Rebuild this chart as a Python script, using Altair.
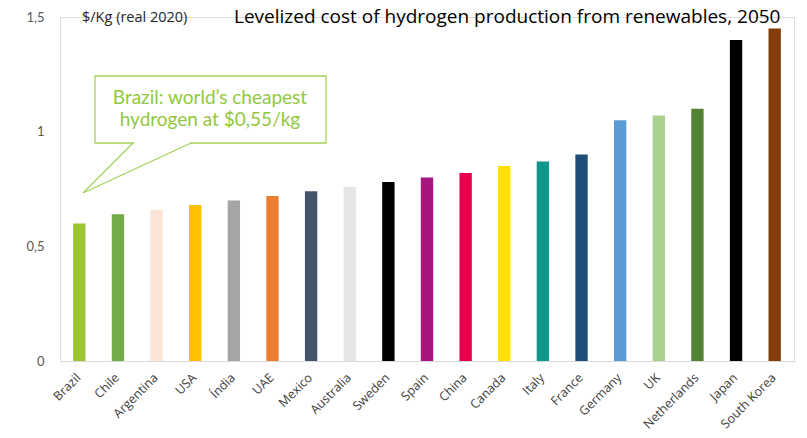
import altair as alt
import pandas as pd

countries = ["Brazil", "Chile", "Argentina", "USA", "Índia", "UAE", "Mexico", "Australia",
             "Sweden", "Spain", "China", "Canada", "Italy", "France", "Germany", "UK",
             "Netherlands", "Japan", "South Korea"]
costs = [0.60, 0.64, 0.66, 0.68, 0.70, 0.72, 0.74, 0.76, 0.78, 0.80, 0.82, 0.85,
         0.87, 0.90, 1.05, 1.07, 1.10, 1.40, 1.45]
colors = ["#9BC532", "#70AD47", "#FBE5D6", "#FFC000", "#A5A5A5", "#ED7D31", "#44546A",
          "#E7E6E6", "#000000", "#A5177F", "#E8004F", "#FFE000", "#10968A", "#1F4E79",
          "#5B9BD5", "#A9D18E", "#548235", "#000000", "#843C0C"]
y_ticks = [0, 0.5, 1, 1.5]

unit_label = "$/Kg (real 2020)"
title_text = "Levelized cost of hydrogen production from renewables, 2050"
callout_lines = ["Brazil: world\u2019s cheapest", "hydrogen at $0,55/kg"]

FONT = "Lato"
FONT2 = "Open Sans"
GREEN = "#A6D15A"
TEXT_GREEN = "#92C83E"

df = pd.DataFrame({"country": countries, "cost": costs})
one = pd.DataFrame({"a": [0]})

bars = alt.Chart(df).mark_bar().encode(
    x=alt.X("country:N", sort=countries, title=None,
            scale=alt.Scale(paddingInner=0.68, paddingOuter=0.34),
            axis=alt.Axis(labelAngle=-45, labelFontSize=12.5, labelColor="#404040",
                          labelFont=FONT2, ticks=False, domainColor="#D9D9D9",
                          labelPadding=10, labelOffset=-5)),
    y=alt.Y("cost:Q", title=None,
            scale=alt.Scale(domain=[0, 1.5], nice=False),
            axis=alt.Axis(values=y_ticks, grid=False, domain=False, ticks=False,
                          labelExpr="replace(toString(datum.value), '.', ',')",
                          labelFontSize=13, labelColor="#595959", labelFont=FONT,
                          labelPadding=16)),
    color=alt.Color("country:N", scale=alt.Scale(domain=countries, range=colors),
                    legend=None),
)

box = alt.Chart(one).mark_rect(fill="white", stroke=GREEN, strokeWidth=1.3).encode(
    x=alt.value(35), x2=alt.value(266), y=alt.value(59), y2=alt.value(126))
gap = alt.Chart(one).mark_rule(color="white", strokeWidth=2.5).encode(
    x=alt.value(74), x2=alt.value(130), y=alt.value(126), y2=alt.value(126))
tail1 = alt.Chart(one).mark_rule(color=GREEN, strokeWidth=1.3).encode(
    x=alt.value(73), x2=alt.value(23), y=alt.value(126), y2=alt.value(176))
tail2 = alt.Chart(one).mark_rule(color=GREEN, strokeWidth=1.3).encode(
    x=alt.value(131), x2=alt.value(23), y=alt.value(126), y2=alt.value(176))
ct1 = alt.Chart(one).mark_text(font=FONT, fontSize=19, color=TEXT_GREEN,
                               align="center", baseline="middle").encode(
    x=alt.value(150), y=alt.value(81), text=alt.value(callout_lines[0]))
ct2 = alt.Chart(one).mark_text(font=FONT, fontSize=19, color=TEXT_GREEN,
                               align="center", baseline="middle").encode(
    x=alt.value(150), y=alt.value(103), text=alt.value(callout_lines[1]))

unit = alt.Chart(one).mark_text(font=FONT2, fontSize=14.5, color="#262626",
                                align="left", baseline="alphabetic").encode(
    x=alt.value(22), y=alt.value(4.5), text=alt.value(unit_label))
title = alt.Chart(one).mark_text(font=FONT2, fontSize=19, color="#000000",
                                 align="left", baseline="alphabetic").encode(
    x=alt.value(174), y=alt.value(6), text=alt.value(title_text))

chart = alt.layer(bars, box, gap, tail1, tail2, ct1, ct2, unit, title).properties(
    width=734, height=344,
    autosize=alt.AutoSizeParams(type="none"),
    padding={"left": 52, "top": 9, "right": 5, "bottom": 69},
).configure_view(stroke=None).configure(background="white")

chart.save("out.html", embed_options={"renderer": "svg", "actions": False})
